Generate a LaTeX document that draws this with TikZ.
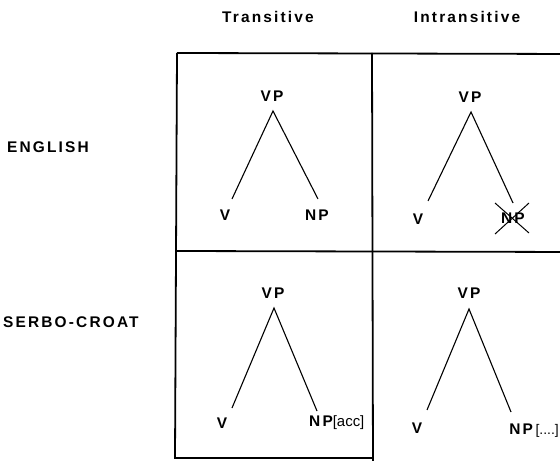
\documentclass[tikz,border=0pt]{standalone}
\usepackage{fontspec}
\setmainfont{Liberation Sans}
\newfontfamily\spacedfont[LetterSpace=14]{Liberation Sans}
\begin{document}
\begin{tikzpicture}[x=1bp,y=-1bp,
  lbl/.style={inner sep=0pt,font=\spacedfont\bfseries\fontsize{15.5}{18}\selectfont},
  cat/.style={inner sep=0pt,font=\spacedfont\bfseries\fontsize{15.5}{18}\selectfont},
  feat/.style={font=\normalfont\fontsize{15}{18}\selectfont},
  grid/.style={line width=1.8bp},
  branch/.style={line width=1.1bp},
  strike/.style={line width=1bp}]
\useasboundingbox (0,0) rectangle (560,461);

% column and row headings
\node[lbl] (ht) at (268,17) {Transitive};
\node[lbl] (hi) at (467,17) {Intransitive};
\node[lbl,anchor=west] (re) at (7,147) {ENGLISH};
\node[lbl,anchor=west] (rs) at (3,322) {SERBO-CROAT};

% the table
\draw[grid] (177,53) -- (575,54);
\draw[grid] (176,251) -- (575,252);
\draw[grid] (177,53) -- (175,458) -- (372,458);
\draw[grid] (372,53) -- (373,470);

% English, transitive
\node[cat] (vp1) at (272,96) {VP};
\node[cat] (v1) at (225,215) {V};
\node[cat] (np1) at (317,215) {NP};
\coordinate (a1) at (273,111);
\coordinate (l1) at (232,199);
\coordinate (r1) at (318,199);
\draw[branch] (l1) -- (a1) -- (r1);

% English, intransitive (object struck out)
\node[cat] (vp2) at (470,97) {VP};
\node[cat] (v2) at (418,219) {V};
\node[cat] (np2) at (513,218) {NP};
\coordinate (a2) at (471,112);
\coordinate (l2) at (428,201);
\coordinate (r2) at (513,203);
\draw[branch] (l2) -- (a2) -- (r2);
\draw[strike] ([shift={(-18,-15)}]np2.center) -- ([shift={(16,15)}]np2.center);
\draw[strike] ([shift={(-18,16)}]np2.center) -- ([shift={(16,-15)}]np2.center);

% Serbo-Croat, transitive
\node[cat] (vp3) at (273,293) {VP};
\node[cat] (v3) at (222,423) {V};
\node[cat,anchor=west] (np3) at (309,423) {NP{\normalfont\fontsize{15}{18}\selectfont[acc]}};
\coordinate (a3) at (274,308);
\coordinate (l3) at (232,408);
\coordinate (r3) at (317,411);
\draw[branch] (l3) -- (a3) -- (r3);

% Serbo-Croat, intransitive
\node[cat] (vp4) at (469,293) {VP};
\node[cat] (v4) at (417,428) {V};
\node[cat,anchor=east] (np4) at (559,431) {NP\,{\normalfont\fontsize{14}{16}\selectfont[....]}};
\coordinate (a4) at (469,309);
\coordinate (l4) at (427,410);
\coordinate (r4) at (511,412);
\draw[branch] (l4) -- (a4) -- (r4);
\end{tikzpicture}
\end{document}
